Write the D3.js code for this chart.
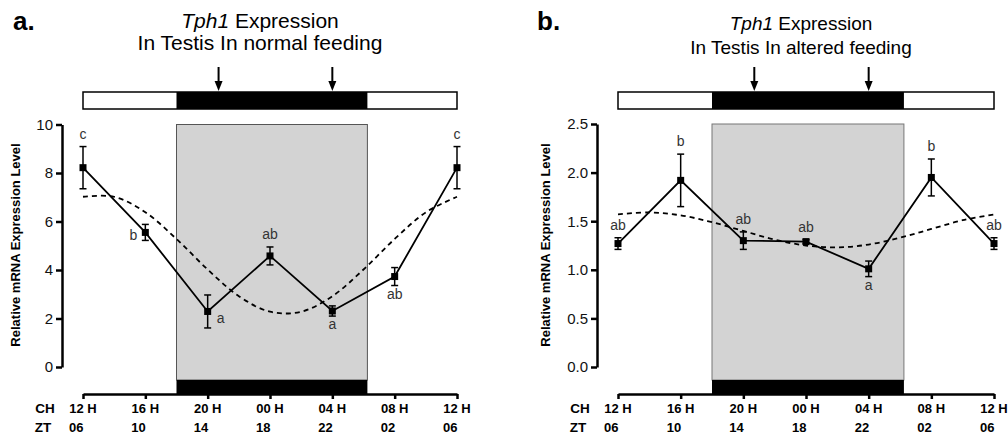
<!DOCTYPE html>
<html>
<head>
<meta charset="utf-8">
<script src="https://cdn.jsdelivr.net/npm/d3@7/dist/d3.min.js"></script>
<style>
  html, body { margin: 0; padding: 0; background: #fff; }
  svg { display: block; font-family: "Liberation Sans", Arial, Helvetica, sans-serif; }
</style>
</head>
<body>
<svg id="chart" width="1008" height="442"></svg>
<script>
// ---------- data ----------
const hours = [0, 4, 8, 12, 16, 20, 24];             // hours after 12 H (CH)
const chLabels = ["12 H", "16 H", "20 H", "00 H", "04 H", "08 H", "12 H"];
const ztLabels = ["06", "10", "14", "18", "22", "02", "06"];
const darkPeriod = [6, 18.25];                       // dark phase, hours after 12 H
const arrowHours = [8.7, 16];

const normalMean = [8.22, 5.55, 2.29, 4.58, 2.31, 3.73, 8.22];
const normalErr = [0.87, 0.33, 0.68, 0.37, 0.21, 0.37, 0.87];
const normalLetters = ["c", "b", "a", "ab", "a", "ab", "c"];
const normalLetterPos = ["above", "left", "right", "above", "below", "below", "above"];
const fitHours = [0, 2, 4, 6, 8, 10, 12, 14, 16, 18, 20, 22, 24];
const normalFit = [7.02, 7.02, 6.38, 5.28, 4.02, 2.92, 2.28, 2.28, 2.92, 4.02, 5.28, 6.38, 7.02];
const normalTicks = [0, 2, 4, 6, 8, 10];

const alteredMean = [1.27, 1.92, 1.30, 1.29, 1.01, 1.95, 1.27];
const alteredErr = [0.06, 0.27, 0.09, 0.02, 0.08, 0.19, 0.06];
const alteredLetters = ["ab", "b", "ab", "ab", "a", "b", "ab"];
const alteredLetterPos = ["above", "above", "above", "above", "below", "above", "above"];
const alteredFit = [1.57, 1.59, 1.56, 1.49, 1.40, 1.31, 1.25, 1.23, 1.26, 1.33, 1.42, 1.51, 1.57];
const alteredTicks = [0, 0.5, 1.0, 1.5, 2.0, 2.5];

// ---------- drawing ----------
const svg = d3.select("#chart");

function drawPanel(cfg) {
  const g = svg.append("g");
  const x = d3.scaleLinear().domain([0, 24]).range([cfg.x0, cfg.x1]);
  const y = d3.scaleLinear().domain([0, cfg.yMax]).range([cfg.yBottom, cfg.yTop]);

  // panel letter
  g.append("text").attr("x", cfg.letterX).attr("y", 30)
    .attr("font-size", 26).attr("font-weight", "bold").text(cfg.letter);

  // title
  const t1 = g.append("text").attr("x", cfg.titleX).attr("y", cfg.title1Y)
    .attr("text-anchor", "middle").attr("font-size", cfg.titleSize);
  t1.append("tspan").attr("font-style", "italic").text("Tph1");
  t1.append("tspan").text(" Expression");
  g.append("text").attr("x", cfg.titleX).attr("y", cfg.title2Y)
    .attr("text-anchor", "middle").attr("font-size", cfg.titleSize).text(cfg.title2);

  // top light/dark bar
  const barTop = 92, barH = 17;
  g.append("rect").attr("x", x(0)).attr("y", barTop).attr("width", x(24) - x(0)).attr("height", barH)
    .attr("fill", "#fff").attr("stroke", "#000").attr("stroke-width", 1.5);
  g.append("rect").attr("x", x(darkPeriod[0])).attr("y", barTop)
    .attr("width", x(darkPeriod[1]) - x(darkPeriod[0])).attr("height", barH).attr("fill", "#000");

  // arrows
  arrowHours.forEach(h => {
    const ax = x(h);
    g.append("line").attr("x1", ax).attr("x2", ax).attr("y1", 67).attr("y2", 84)
      .attr("stroke", "#000").attr("stroke-width", 2);
    g.append("path").attr("d", `M${ax - 4},${81} L${ax + 4},${81} L${ax},${91} Z`).attr("fill", "#000");
  });

  // shaded dark box
  const axisY = 394;
  g.append("rect").attr("x", x(darkPeriod[0])).attr("y", y(cfg.yMax))
    .attr("width", x(darkPeriod[1]) - x(darkPeriod[0])).attr("height", 380 - y(cfg.yMax))
    .attr("fill", "#d3d3d3").attr("stroke", cfg.boxStroke).attr("stroke-width", 1);
  g.append("rect").attr("x", x(darkPeriod[0])).attr("y", 380)
    .attr("width", x(darkPeriod[1]) - x(darkPeriod[0])).attr("height", axisY - 380).attr("fill", "#000");

  // y axis
  const yAxis = g.append("g").attr("transform", `translate(${cfg.yAxisX},0)`)
    .call(d3.axisLeft(y).tickValues(cfg.ticks).tickFormat(cfg.fmt).tickSize(6).tickSizeOuter(0).tickPadding(3));
  yAxis.select(".domain").attr("stroke-width", 2.5);
  yAxis.selectAll(".tick line").attr("stroke-width", 2.5);
  yAxis.selectAll(".tick text").attr("font-size", 15).attr("font-family", "Liberation Sans, Arial, sans-serif").attr("fill", "#111");

  // x axis
  const xAxis = g.append("g").attr("transform", `translate(0,${axisY})`)
    .call(d3.axisBottom(x).tickValues(hours).tickFormat("").tickSize(5).tickSizeOuter(0));
  xAxis.select(".domain").attr("stroke-width", 2.5);
  xAxis.selectAll(".tick line").attr("stroke-width", 2.5);

  // x labels
  g.append("text").attr("x", cfg.x0 - 38).attr("y", 413).attr("text-anchor", "middle")
    .attr("font-size", 13.5).attr("font-weight", "bold").text("CH");
  g.append("text").attr("x", cfg.x0 - 40).attr("y", 432).attr("text-anchor", "middle")
    .attr("font-size", 13.5).attr("font-weight", "bold").text("ZT");
  g.selectAll(".chl").data(hours).enter().append("text")
    .attr("x", d => x(d)).attr("y", 413).attr("text-anchor", "middle")
    .attr("font-size", 13).attr("font-weight", "bold").text((d, i) => chLabels[i]);
  g.selectAll(".ztl").data(hours).enter().append("text")
    .attr("x", d => x(d) - 14).attr("y", 432).attr("text-anchor", "start")
    .attr("font-size", 13).attr("font-weight", "bold").text((d, i) => ztLabels[i]);

  // y label
  g.append("text").attr("transform", `translate(${cfg.yLabelX},${245}) rotate(-90)`)
    .attr("text-anchor", "middle").attr("font-size", 13).attr("font-weight", "bold")
    .text("Relative mRNA Expression Level");

  // fitted dashed curve
  const fitLine = d3.line().x((d, i) => x(fitHours[i])).y(d => y(d)).curve(d3.curveCatmullRom);
  g.append("path").attr("d", fitLine(cfg.fit)).attr("fill", "none").attr("stroke", "#000")
    .attr("stroke-width", 1.8).attr("stroke-dasharray", "5,4");

  // data line
  const line = d3.line().x((d, i) => x(hours[i])).y(d => y(d));
  g.append("path").attr("d", line(cfg.mean)).attr("fill", "none").attr("stroke", "#000").attr("stroke-width", 1.8);

  // error bars
  cfg.mean.forEach((m, i) => {
    const cx = x(hours[i]);
    const top = y(m + cfg.err[i]), bot = y(m - cfg.err[i]);
    g.append("line").attr("x1", cx).attr("x2", cx).attr("y1", top).attr("y2", bot).attr("stroke", "#000").attr("stroke-width", 1.5);
    [top, bot].forEach(yy => g.append("line").attr("x1", cx - 3.5).attr("x2", cx + 3.5).attr("y1", yy).attr("y2", yy)
      .attr("stroke", "#000").attr("stroke-width", 1.5));
    g.append("rect").attr("x", cx - 3.5).attr("y", y(m) - 3.5).attr("width", 7).attr("height", 7).attr("fill", "#000");

    // letters
    const pos = cfg.letterPos[i];
    let lx = cx, ly, anchor = "middle";
    if (pos === "above") ly = top - 8;
    else if (pos === "below") ly = bot + 13;
    else if (pos === "left") { lx = cx - 8; ly = y(m) + 8; anchor = "end"; }
    else { lx = cx + 9; ly = y(m) + 12; anchor = "start"; }
    g.append("text").attr("x", lx).attr("y", ly).attr("text-anchor", anchor)
      .attr("font-size", 14).attr("fill", "#333").text(cfg.letters[i]);
  });
}

drawPanel({
  letter: "a.", letterX: 13, titleX: 260, title1Y: 28, title2Y: 50, titleSize: 21,
  title2: "In Testis In normal feeding",
  x0: 83, x1: 457, yTop: 124.5, yBottom: 367, yMax: 10, yAxisX: 62, yLabelX: 20,
  ticks: normalTicks, fmt: d3.format("d"), boxStroke: "#555",
  mean: normalMean, err: normalErr, letters: normalLetters, letterPos: normalLetterPos, fit: normalFit
});

drawPanel({
  letter: "b.", letterX: 537, titleX: 801, title1Y: 30, title2Y: 54, titleSize: 19,
  title2: "In Testis In altered feeding",
  x0: 618, x1: 994, yTop: 124, yBottom: 367, yMax: 2.5, yAxisX: 597, yLabelX: 550,
  ticks: alteredTicks, fmt: d3.format(".1f"), boxStroke: "#777",
  mean: alteredMean, err: alteredErr, letters: alteredLetters, letterPos: alteredLetterPos, fit: alteredFit
});
</script>
</body>
</html>
